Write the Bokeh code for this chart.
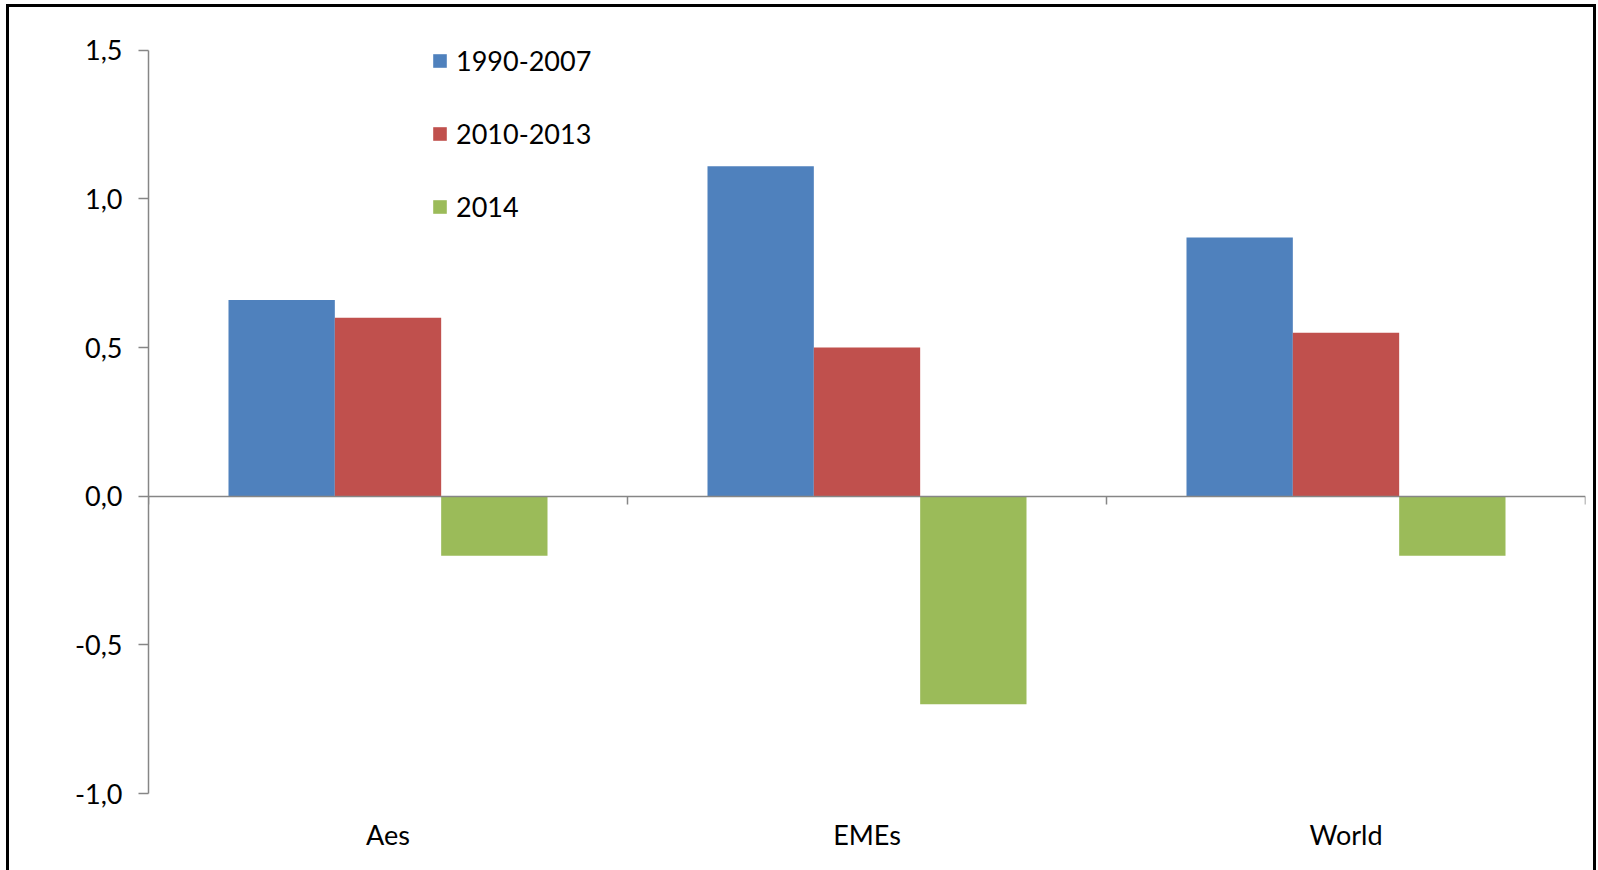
from bokeh.plotting import figure
from bokeh.models import (ColumnDataSource, Range1d, LinearAxis, FixedTicker,
                          CustomJSTickFormatter, Legend, LegendItem, InlineStyleSheet)
from bokeh.transform import dodge
from bokeh.embed import file_html
from bokeh.resources import INLINE

# Regions and growth figures per period
categories = ["Aes", "EMEs", "World"]
series_names = ["1990-2007", "2010-2013", "2014"]
v_1990_2007 = [0.66, 1.11, 0.87]
v_2010_2013 = [0.60, 0.50, 0.55]
v_2014 = [-0.20, -0.70, -0.20]
colors = ["#4F81BD", "#C0504D", "#9BBB59"]
y_ticks = [-1.0, -0.5, 0.0, 0.5, 1.0, 1.5]

FONT = "Lato"
FS = "27px"
AXIS_GREY = "#868686"

n = len(categories)
centers = [i + 0.5 for i in range(n)]          # one unit slot per category
bounds = list(range(n + 1))                      # slot edges

source = ColumnDataSource(dict(xc=centers, a=v_1990_2007, b=v_2010_2013, c=v_2014))

# A little head room above the top tick leaves space for the legend
p = figure(width=1598, height=870, x_range=Range1d(0, n),
           y_range=Range1d(-1.0, 1.6), output_backend="svg", toolbar_location=None,
           min_border_left=148, min_border_right=13, min_border_top=20, min_border_bottom=77)
p.xgrid.visible = False
p.ygrid.visible = False
p.outline_line_color = None
p.background_fill_color = "white"
p.border_fill_color = "white"

bar_w = 0.222
renderers = []
for key, off, col in zip(["a", "b", "c"], [-bar_w, 0.0, bar_w], colors):
    r = p.vbar(x=dodge("xc", off), top=key, bottom=0, width=bar_w,
               source=source, fill_color=col, line_color=None)
    renderers.append(r)

# Vertical axis
yax = p.yaxis[0]
yax.ticker = FixedTicker(ticks=y_ticks)
yax.bounds = (y_ticks[0], y_ticks[-1])
yax.formatter = CustomJSTickFormatter(code="return tick.toFixed(1).replace('.', ',');")
yax.axis_line_color = AXIS_GREY
yax.axis_line_width = 1.5
yax.major_tick_line_color = AXIS_GREY
yax.major_tick_line_width = 1.5
yax.major_tick_out = 10
yax.major_tick_in = 0
yax.minor_tick_line_color = None
yax.major_label_standoff = 16
yax.major_label_text_font = FONT
yax.major_label_text_font_size = FS
yax.major_label_text_color = "black"

# Category labels along the bottom
xax = p.xaxis[0]
xax.ticker = FixedTicker(ticks=centers)
xax.formatter = CustomJSTickFormatter(args=dict(cats=categories),
                                      code="return cats[Math.floor(tick)];")
xax.axis_line_color = None
xax.major_tick_line_color = None
xax.minor_tick_line_color = None
xax.major_tick_out = 0
xax.major_label_standoff = 24
xax.major_label_text_font = FONT
xax.major_label_text_font_size = FS
xax.major_label_text_color = "black"

# Zero line with category boundary ticks
zero_axis = LinearAxis(fixed_location=0, ticker=FixedTicker(ticks=bounds),
                       major_label_text_font_size="0px", major_label_text_alpha=0,
                       axis_line_color=AXIS_GREY, axis_line_width=1.5,
                       major_tick_line_color=AXIS_GREY, major_tick_line_width=1.5,
                       major_tick_out=8, major_tick_in=0, minor_tick_line_color=None,
                       major_label_standoff=0)
p.add_layout(zero_axis, "below")

legend = Legend(items=[LegendItem(label=s, renderers=[r]) for s, r in zip(series_names, renderers)],
                location=(283, 570), orientation="vertical",
                glyph_width=17, glyph_height=17, label_height=34, spacing=39,
                label_standoff=8, padding=0, margin=0,
                label_text_font=FONT, label_text_font_size=FS, label_text_color="black",
                border_line_alpha=0, background_fill_alpha=0)
p.add_layout(legend, "center")

# Black frame around the whole chart (open at the bottom edge)
p.stylesheets = [InlineStyleSheet(css="""
:host { position: relative; }
:host::after {
  content: "";
  position: absolute;
  left: 6px; top: 4px;
  width: 1584px; height: 880px;
  border: 3px solid black;
  border-bottom: none;
  pointer-events: none;
  z-index: 10;
}
""")]

open("out.html", "w").write(file_html(p, INLINE))
